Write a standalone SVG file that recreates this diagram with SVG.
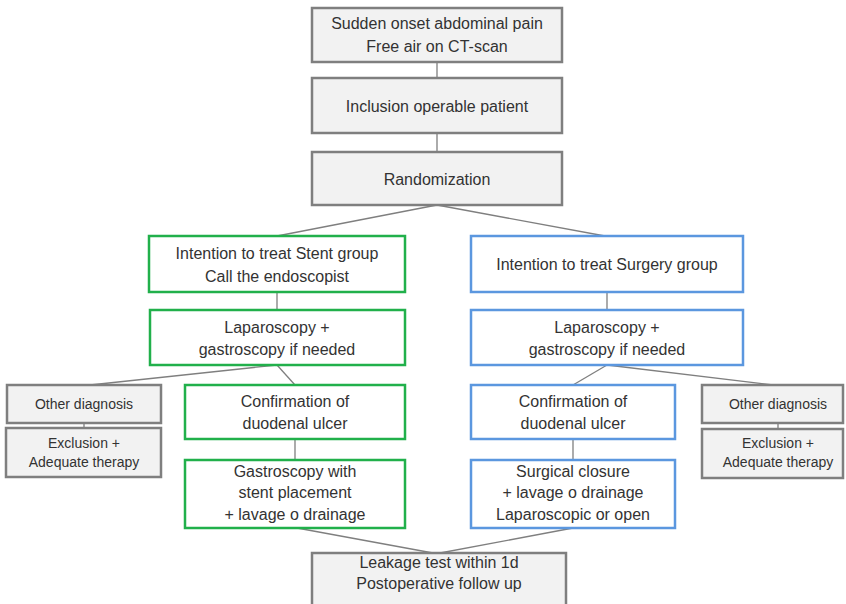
<svg xmlns="http://www.w3.org/2000/svg" width="846" height="604" viewBox="0 0 846 604">
<style>
.g{fill:#f2f2f2;stroke:#7f7f7f;stroke-width:2.5}
.gr{fill:#ffffff;stroke:#21b04b;stroke-width:2.5}
.bl{fill:#ffffff;stroke:#5b97df;stroke-width:2.5}
text{font-family:"Liberation Sans",Arial,sans-serif;font-size:16px;fill:#333333;text-anchor:middle}
text.s{font-size:14px}
.c{stroke:#7f7f7f;stroke-width:1.3;fill:none}
</style>
<rect width="846" height="604" fill="#ffffff"/>
<g id="connectors">
<line class="c" x1="437" y1="62" x2="437" y2="78"/>
<line class="c" x1="437" y1="133" x2="437" y2="152"/>
<line class="c" x1="437" y1="205" x2="277" y2="236"/>
<line class="c" x1="437" y1="205" x2="605" y2="236"/>
<line class="c" x1="277" y1="292" x2="277" y2="310"/>
<line class="c" x1="607" y1="292" x2="607" y2="310"/>
<line class="c" x1="277" y1="365" x2="90" y2="385"/>
<line class="c" x1="277" y1="365" x2="295" y2="385"/>
<line class="c" x1="607" y1="365" x2="573" y2="385"/>
<line class="c" x1="607" y1="365" x2="773" y2="385"/>
<line class="c" x1="84" y1="423" x2="84" y2="428"/>
<line class="c" x1="778" y1="423" x2="778" y2="428"/>
<line class="c" x1="295" y1="439" x2="295" y2="460"/>
<line class="c" x1="573" y1="439" x2="573" y2="460"/>
<line class="c" x1="297" y1="528" x2="433" y2="553"/>
<line class="c" x1="573" y1="528" x2="440" y2="553"/>
</g>
<g id="n1"><rect class="g" x="312" y="8" width="250" height="54"/><text x="437" y="29">Sudden onset abdominal pain</text><text x="437" y="52">Free air on CT-scan</text></g>
<g id="n2"><rect class="g" x="312" y="78" width="250" height="55"/><text x="437" y="112">Inclusion operable patient</text></g>
<g id="n3"><rect class="g" x="312" y="152" width="250" height="53"/><text x="437" y="185">Randomization</text></g>
<g id="s1"><rect class="gr" x="149" y="236" width="256" height="56"/><text x="277" y="259">Intention to treat Stent group</text><text x="277" y="282">Call the endoscopist</text></g>
<g id="s2"><rect class="gr" x="150" y="310" width="255" height="55"/><text x="277" y="333">Laparoscopy +</text><text x="277" y="355">gastroscopy if needed</text></g>
<g id="b1"><rect class="bl" x="471" y="236" width="272" height="56"/><text x="607" y="270">Intention to treat Surgery group</text></g>
<g id="b2"><rect class="bl" x="471" y="310" width="272" height="55"/><text x="607" y="333">Laparoscopy +</text><text x="607" y="355">gastroscopy if needed</text></g>
<g id="od1"><rect class="g" x="7" y="385" width="154" height="38"/><text class="s" x="84" y="409">Other diagnosis</text></g>
<g id="ex1"><rect class="g" x="6" y="428" width="155" height="49"/><text class="s" x="84" y="448">Exclusion +</text><text class="s" x="84" y="467">Adequate therapy</text></g>
<g id="s3"><rect class="gr" x="185" y="385" width="220" height="54"/><text x="295" y="407">Confirmation of</text><text x="295" y="429">duodenal ulcer</text></g>
<g id="s4"><rect class="gr" x="185" y="460" width="220" height="68"/><text x="295" y="477">Gastroscopy with</text><text x="295" y="498">stent placement</text><text x="295" y="520">+ lavage o drainage</text></g>
<g id="b3"><rect class="bl" x="471" y="385" width="204" height="54"/><text x="573" y="407">Confirmation of</text><text x="573" y="429">duodenal ulcer</text></g>
<g id="b4"><rect class="bl" x="471" y="460" width="204" height="68"/><text x="573" y="477">Surgical closure</text><text x="573" y="498">+ lavage o drainage</text><text x="573" y="520">Laparoscopic or open</text></g>
<g id="od2"><rect class="g" x="702" y="385" width="141" height="38"/><text class="s" x="778" y="409">Other diagnosis</text></g>
<g id="ex2"><rect class="g" x="702" y="429" width="141" height="49"/><text class="s" x="778" y="448">Exclusion +</text><text class="s" x="778" y="467">Adequate therapy</text></g>
<g id="n4"><rect class="g" x="312" y="553" width="254" height="56"/><text x="439" y="568">Leakage test within 1d</text><text x="439" y="589">Postoperative follow up</text></g>
</svg>
